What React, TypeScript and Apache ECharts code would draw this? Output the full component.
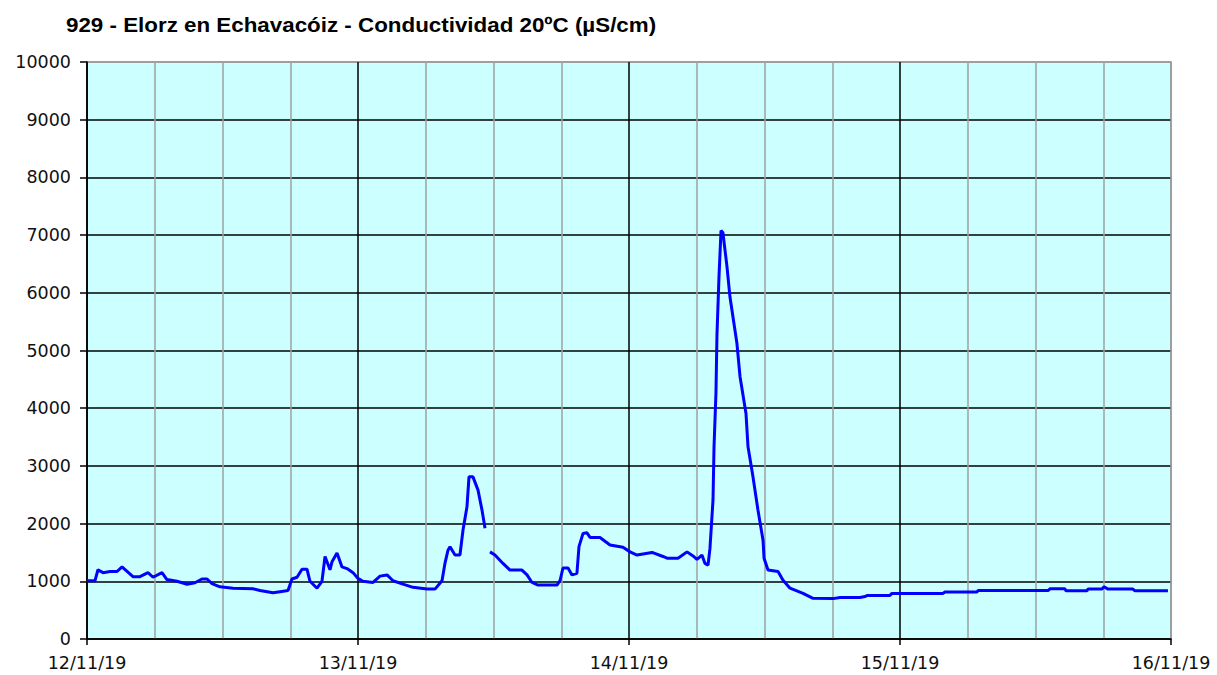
import React, { useEffect, useRef } from "react";
import * as echarts from "echarts";

const TITLE = "929 - Elorz en Echavacóiz - Conductividad 20ºC (µS/cm)";
// hours since 12/11/19 00:00
const hours: number[] = [
  0, 0.71, 0.97, 1.42, 2.04, 2.66, 3.1, 4.07, 4.69, 5.4, 5.85, 6.64, 7.08, 7.97, 8.86, 9.56,
  10.18, 10.63, 11.07, 11.78, 12.93, 14.7, 15.32, 16.47, 17.09, 17.8, 18.15, 18.6, 19.04, 19.48,
  19.75, 20.37, 20.81, 21.08, 21.52, 21.7, 22.14, 22.58, 23.03, 23.56, 24.0, 24.44, 25.33, 25.95,
  26.57, 27.1, 27.98, 28.87, 30.11, 30.82, 31.44, 31.7, 31.97, 32.15, 32.59, 33.03, 33.3, 33.65,
  33.83, 34.18, 34.63, 34.98, 35.25, 35.5, 35.69, 36.13, 36.84, 37.46, 38.52, 38.97, 39.41, 39.94,
  41.62, 41.89, 42.15, 42.6, 42.95, 43.39, 43.57, 43.93, 44.28, 44.55, 45.43, 46.32, 47.47, 48.09,
  48.71, 50.04, 51.01, 51.37, 52.34, 53.14, 53.67, 54.02, 54.46, 54.73, 55.0, 55.17, 55.44, 55.53,
  55.7, 55.79, 55.97, 56.15, 56.32, 56.41, 56.68, 56.94, 57.56, 57.83, 58.36, 58.54, 58.98, 59.42,
  59.87, 59.96, 60.31, 61.2, 61.64, 62.26, 63.41, 64.3, 66.07, 66.69, 68.46, 68.9, 69.08, 71.11,
  71.29, 75.81, 75.98, 78.82, 78.91, 85.11, 85.28, 86.61, 86.7, 88.56, 88.65, 89.89, 90.07, 90.42,
  92.63, 92.81, 95.73,
];
const conductivity: (number | null)[] = [
  1010, 1010, 1200, 1150, 1170, 1170, 1250, 1080, 1080, 1150, 1070, 1150, 1030, 1000, 950, 975,
  1040, 1040, 960, 905, 880, 870, 840, 800, 820, 840, 1040, 1070, 1210, 1210,
  1000, 880, 1000, 1430, 1200, 1340, 1490, 1250, 1220, 1150, 1050, 1000, 980, 1090,
  1110, 1010, 950, 895, 865, 865, 1010, 1310, 1540, 1600, 1455, 1455, 1890, 2290,
  2810, 2810, 2580, 2235, 1920, null, 1510, 1455, 1310, 1195, 1195, 1110, 980, 935,
  935, 1010, 1230, 1230, 1110, 1140, 1600, 1830, 1840, 1760, 1760, 1630, 1590, 1510,
  1455, 1500, 1430, 1400, 1400, 1510, 1440, 1380, 1455, 1310, 1280, 1570, 2410, 3330,
  4260, 5270, 6280, 7080, 7040, 6890, 6450, 5930, 5120, 4550, 3910, 3330, 2810, 2235,
  1710, 1400, 1195, 1170, 1020, 880, 790, 705, 700, 720, 720, 735, 755, 755,
  790, 790, 815, 815, 840, 840, 870, 870, 835, 835, 865, 865, 905, 865,
  865, 835, 835,
];
const dayLabels: string[] = ["12/11/19", "13/11/19", "14/11/19", "15/11/19", "16/11/19"];

const TITLE_FONT = "bold 21px 'Liberation Sans'";
const TITLE_WIDTH = 590;

export default function App() {
  const ref = useRef<HTMLDivElement>(null);
  useEffect(() => {
    if (!ref.current) return;
    const chart = echarts.init(ref.current, null, { renderer: "svg" });
    let scaleX = 0.82;
    try {
      const ctx = document.createElement("canvas").getContext("2d");
      if (ctx) {
        ctx.font = TITLE_FONT;
        const w = ctx.measureText(TITLE).width;
        if (w > 0) scaleX = TITLE_WIDTH / w;
      }
    } catch (e) {}
    const labelFont = { fontFamily: "DejaVu Sans", fontSize: 17.5, color: "#111" };
    const ySplitColors = Array.from({ length: 11 }, (_, i) => (i === 10 ? "#999999" : "#000000"));
    chart.setOption({
      animation: false,
      backgroundColor: "#ffffff",
      graphic: [
        {
          type: "text",
          x: 66,
          y: 25,
          scaleX,
          style: {
            text: TITLE,
            fontFamily: "Liberation Sans",
            fontWeight: "bold",
            fontSize: 21,
            fill: "#000",
            verticalAlign: "middle",
            align: "left",
          },
        },
      ],
      grid: {
        left: 87,
        right: 46,
        top: 62,
        bottom: 36,
        show: true,
        backgroundColor: "#ccffff",
        borderColor: "#999999",
        borderWidth: 1.5,
      },
      xAxis: {
        type: "value",
        min: 0,
        max: 96,
        interval: 24,
        axisLine: { show: true, onZero: false, lineStyle: { color: "#000", width: 1.5 } },
        axisTick: { show: true, length: 6, lineStyle: { color: "#000", width: 1.5 } },
        axisLabel: {
          ...labelFont,
          margin: 15,
          formatter: (v: number) => dayLabels[Math.round(v / 24)] ?? "",
        },
        minorTick: { show: false, splitNumber: 4 },
        minorSplitLine: { show: true, lineStyle: { color: "#a0a0a0", width: 1.5 } },
        splitLine: {
          show: true,
          lineStyle: { color: ["#000000", "#000000", "#000000", "#000000", "#999999"], width: 1.5 },
        },
      },
      yAxis: {
        type: "value",
        min: 0,
        max: 10000,
        interval: 1000,
        axisLine: { show: true, lineStyle: { color: "#000", width: 1.5 } },
        axisTick: { show: true, length: 7, lineStyle: { color: "#000", width: 1.5 } },
        axisLabel: { ...labelFont, margin: 16, formatter: (v: number) => String(v) },
        splitLine: { show: true, lineStyle: { color: ySplitColors, width: 1.5 } },
      },
      series: [
        {
          type: "line",
          data: hours.map((h, i) => [h, conductivity[i]]),
          showSymbol: false,
          connectNulls: false,
          lineStyle: { color: "#0000ff", width: 3 },
          itemStyle: { color: "#0000ff" },
        },
      ],
    });
    return () => chart.dispose();
  }, []);
  return (
    <div
      ref={ref}
      style={{ position: "fixed", left: 0, top: 0, width: 1217, height: 675 }}
    />
  );
}
